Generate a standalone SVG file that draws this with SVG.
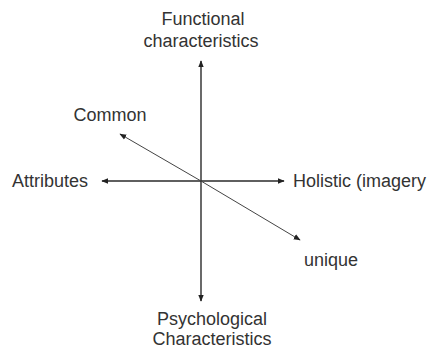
<svg xmlns="http://www.w3.org/2000/svg" width="431" height="350" viewBox="0 0 431 350">
<defs>
<marker id="ah" viewBox="0 0 10 10" refX="9" refY="5" markerWidth="7" markerHeight="7" markerUnits="userSpaceOnUse" orient="auto">
<path d="M0,1 L10,5 L0,9 Z" fill="#222"/>
</marker>
<style>
.t{font-family:"Liberation Sans",Arial,sans-serif;font-size:18px;fill:#333;}
.c{stroke:#2a2a2a;stroke-width:1.4;fill:none;marker-end:url(#ah);}
.d{stroke:#444;stroke-width:1;}
</style>
</defs>
<rect width="431" height="350" fill="#fff"/>
<g id="connectors">
<line class="c" x1="201" y1="181" x2="201" y2="61"/>
<line class="c" x1="201" y1="181" x2="201" y2="301"/>
<line class="c" x1="201" y1="181" x2="102" y2="181"/>
<line class="c" x1="201" y1="181" x2="284" y2="181"/>
<line class="c d" x1="201" y1="181" x2="120" y2="134"/>
<line class="c d" x1="201" y1="181" x2="300" y2="240"/>
</g>
<g id="functional"><text class="t" x="203" y="25" text-anchor="middle">Functional</text><text class="t" x="201" y="47" text-anchor="middle">characteristics</text></g>
<g id="common"><text class="t" x="110" y="121" text-anchor="middle">Common</text></g>
<g id="attributes"><text class="t" x="12" y="187">Attributes</text></g>
<g id="holistic"><text class="t" x="293" y="187">Holistic (imagery</text></g>
<g id="unique"><text class="t" x="331" y="266" text-anchor="middle">unique</text></g>
<g id="psychological"><text class="t" x="212" y="325" text-anchor="middle">Psychological</text><text class="t" x="212" y="345" text-anchor="middle">Characteristics</text></g>
</svg>
